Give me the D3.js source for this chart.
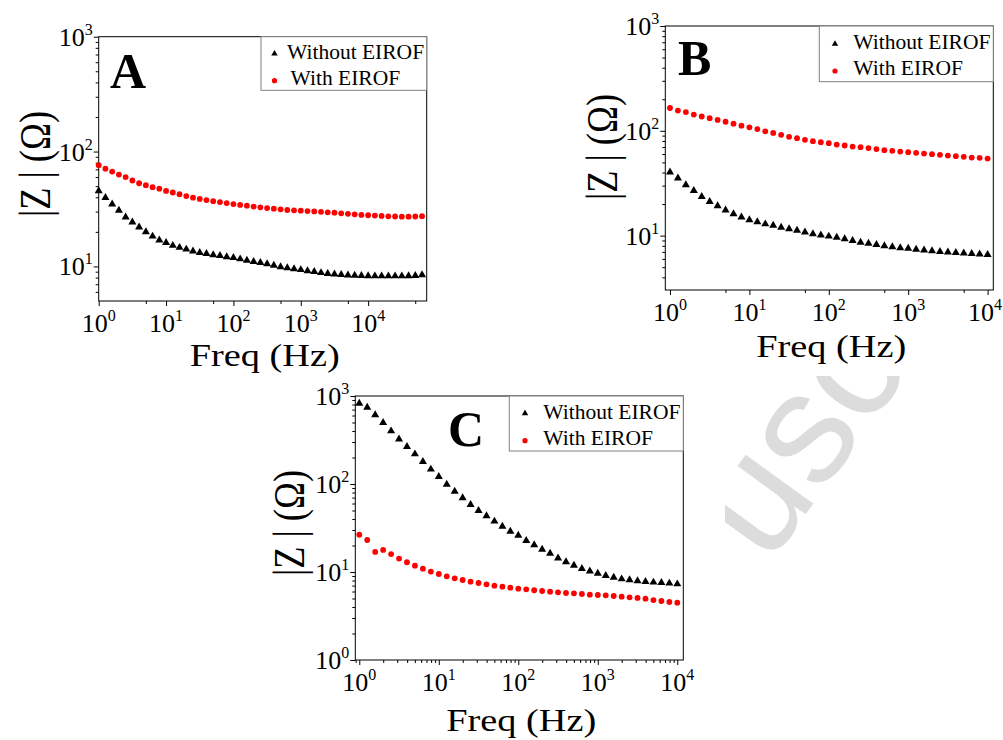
<!DOCTYPE html>
<html lang="en">
<head>
<meta charset="utf-8">
<title>|Z| vs Freq</title>
<script src="https://d3js.org/d3.v7.min.js"></script>
<style>
  body { margin: 0; background: #fff; }
  text { font-family: "Liberation Serif", "Times New Roman", serif; fill: #000; }
</style>
</head>
<body>
<script>
// frequencies (Hz), 10 points per decade
var freqA = [1, 1.259, 1.585, 1.995, 2.512, 3.162, 3.981, 5.012, 6.31, 7.943,
  10, 12.59, 15.85, 19.95, 25.12, 31.62, 39.81, 50.12, 63.1, 79.43,
  100, 125.9, 158.5, 199.5, 251.2, 316.2, 398.1, 501.2, 631, 794.3,
  1000, 1259, 1585, 1995, 2512, 3162, 3981, 5012, 6310, 7943,
  10000, 12590, 15850, 19950, 25120, 31620, 39810, 50120, 63100];
var freqBC = freqA.slice(0, 41);

// |Z| (ohm)
var zA_without = [45.4, 39.7, 34.9, 30.8, 26.9, 24.3, 22, 20, 18.3, 16.9,
  16.1, 15.2, 14.6, 14.1, 13.6, 13.2, 12.9, 12.6, 12.4, 12.1,
  11.9, 11.6, 11.3, 11, 10.8, 10.5, 10.2, 9.9, 9.7, 9.5,
  9.35, 9.15, 9.0, 8.8, 8.65, 8.55, 8.47, 8.4, 8.35, 8.3,
  8.26, 8.25, 8.25, 8.25, 8.25, 8.25, 8.27, 8.3, 8.45];
var zA_with = [76, 71, 67, 63, 60, 56, 53, 51, 49, 47.5,
  45.4, 44, 42.5, 41, 39.7, 38.7, 37.8, 37, 36.3, 35.6,
  34.9, 34.3, 33.8, 33.2, 32.7, 32.2, 31.8, 31.4, 31, 30.8,
  30.6, 30.3, 30.1, 29.9, 29.6, 29.4, 29, 28.7, 28.4, 28.1,
  27.9, 27.7, 27.5, 27.3, 27.2, 27.1, 27.1, 27.2, 27.4];
var zB_without = [40.3, 35.3, 30.5, 26.9, 23.6, 21.1, 19.2, 17.5, 16.1, 15,
  14.1, 13.5, 12.9, 12.5, 12, 11.6, 11.2, 10.8, 10.4, 10.1,
  9.86, 9.6, 9.3, 8.96, 8.63, 8.45, 8.2, 7.97, 7.8, 7.63,
  7.55, 7.4, 7.28, 7.15, 7.05, 6.95, 6.87, 6.8, 6.72, 6.66, 6.6];
var zB_with = [165, 156, 151, 143, 137, 132, 127, 122, 117, 112,
  108, 104, 99, 95.5, 91.5, 87.7, 85, 82, 79.6, 78,
  76.3, 74, 72.4, 70.8, 69.8, 68.4, 66.9, 65.4, 64.4, 63.4,
  62.6, 61.7, 60.7, 59.9, 59, 58.1, 57.3, 56.5, 55.6, 55.2, 54.3];
var zC_without = [826, 743, 608, 498, 400, 324, 265, 219, 179, 147,
  121, 99, 82.6, 69.4, 58.2, 49.8, 43.3, 37.7, 33, 29,
  26.1, 22.7, 20.3, 18.1, 16.3, 14.4, 13, 11.9, 10.9, 10.2,
  9.66, 9.08, 8.7, 8.32, 8.11, 7.9, 7.76, 7.64, 7.57, 7.44, 7.3];
var zC_with = [26.5, 23.1, 16.9, 17.8, 16, 14.2, 12.9, 11.8, 10.9, 10.1,
  9.49, 8.93, 8.47, 8.11, 7.76, 7.5, 7.24, 6.99, 6.81, 6.64,
  6.46, 6.36, 6.2, 6.08, 5.97, 5.87, 5.77, 5.73, 5.62, 5.52,
  5.48, 5.43, 5.34, 5.24, 5.15, 5.07, 4.98, 4.8, 4.68, 4.56, 4.48];

var seriesNames = ["Without EIROF", "With EIROF"];
var xTickExp = [0, 1, 2, 3, 4];
var panelLetters = ["A", "B", "C"];
var xTitle = "Freq (Hz)";
var yTitle = "|Z | (\u03A9)";

var w = 1003, h = 740;

var svg = d3.select("body").append("svg")
  .attr("width", w).attr("height", h);

svg.append("rect").attr("width", w).attr("height", h).attr("fill", "#fff");

// faint watermark behind the panels
svg.append("text")
  .attr("transform", "translate(768,566) rotate(-54)")
  .style("font-family", "'Liberation Sans', Arial, sans-serif")
  .style("font-size", "158px")
  .style("fill", "#dcdcdc")
  .text("usc");

var panels = [
  { letter: panelLetters[0], freq: freqA, without: zA_without, withE: zA_with,
    left: 98.7, top: 36.7, pw: 328, ph: 264.3,
    xDomain: [1, 74000], yDomain: [5, 1000], yTickExp: [1, 2, 3], xMinor: [5],
    bg: [0, 0, 440, 380],
    leg: { bx: 261, bw: 165.7, bh: 53.6, mx: 13.5, m1: 17, m2: 44, t1x: 26, t2x: 29.5, t1y: 22, t2y: 48 },
    letterPos: [110, 88], titleY: 366, yTitlePos: [50, 164] },
  { letter: panelLetters[1], freq: freqBC, without: zB_without, withE: zB_with,
    left: 665.3, top: 26, pw: 328, ph: 264,
    xDomain: [0.873, 11800], yDomain: [3.03, 1000], yTickExp: [1, 2, 3], xMinor: [5],
    bg: [560, 0, 443, 376],
    leg: { bx: 819.3, bw: 174, bh: 55.7, mx: 15.7, m1: 18, m2: 45, t1x: 34, t2x: 34, t1y: 23.3, t2y: 49 },
    letterPos: [678, 75], titleY: 357, yTitlePos: [617, 147] },
  { letter: panelLetters[2], freq: freqBC, without: zC_without, withE: zC_with,
    left: 355.3, top: 396, pw: 328, ph: 264,
    xDomain: [0.891, 11900], yDomain: [1, 1000], yTickExp: [0, 1, 2, 3], xMinor: [2, 3, 4, 5, 6, 7, 8, 9],
    bg: [250, 380, 475, 360],
    leg: { bx: 509.3, bw: 174, bh: 55, mx: 15.7, m1: 17.3, m2: 44.7, t1x: 34, t2x: 34, t1y: 23, t2y: 49 },
    letterPos: [448, 445.7], titleY: 731, yTitlePos: [304, 523] }
];

// white panel backgrounds (they hide parts of the watermark)
panels.forEach(function(p) {
  svg.append("rect")
    .attr("x", p.bg[0]).attr("y", p.bg[1])
    .attr("width", p.bg[2]).attr("height", p.bg[3])
    .attr("fill", "#fff");
});

function powLabel(sel, exp, mainSize) {
  sel.append("tspan").style("font-size", mainSize + "px").text("10");
  sel.append("tspan").style("font-size", "16px").attr("dy", -11).text(exp);
}

panels.forEach(function(p) {
  var g = svg.append("g");
  var bottom = p.top + p.ph, right = p.left + p.pw;

  var x = d3.scaleLog().domain(p.xDomain).range([p.left, right]);
  var y = d3.scaleLog().domain(p.yDomain).range([bottom, p.top]);

  var xMajor = xTickExp.map(function(e) { return Math.pow(10, e); });
  var xMinor = [];
  d3.range(-1, 5).forEach(function(e) {
    p.xMinor.forEach(function(m) {
      var v = m * Math.pow(10, e);
      if (v > p.xDomain[0] && v < p.xDomain[1]) xMinor.push(v);
    });
  });
  var yMajor = p.yTickExp.map(function(e) { return Math.pow(10, e); });
  var yMinor = [];
  d3.range(-1, 4).forEach(function(e) {
    [2, 3, 4, 5, 6, 7, 8, 9].forEach(function(m) {
      var v = m * Math.pow(10, e);
      if (v > p.yDomain[0] && v < p.yDomain[1]) yMinor.push(v);
    });
  });

  // ticks
  function tickStyle(sel) {
    sel.select(".domain").remove();
    sel.selectAll("line").attr("stroke", "#000").attr("stroke-width", 1);
  }
  g.append("g").attr("transform", "translate(0," + bottom + ")")
    .call(d3.axisBottom(x).tickValues(xMajor).tickSize(5).tickSizeOuter(0).tickFormat(""))
    .call(tickStyle);
  g.append("g").attr("transform", "translate(0," + bottom + ")")
    .call(d3.axisBottom(x).tickValues(xMinor).tickSize(3).tickSizeOuter(0).tickFormat(""))
    .call(tickStyle);
  g.append("g").attr("transform", "translate(" + p.left + ",0)")
    .call(d3.axisLeft(y).tickValues(yMajor).tickSize(5).tickSizeOuter(0).tickFormat(""))
    .call(tickStyle);
  g.append("g").attr("transform", "translate(" + p.left + ",0)")
    .call(d3.axisLeft(y).tickValues(yMinor).tickSize(3).tickSizeOuter(0).tickFormat(""))
    .call(tickStyle);

  // frame
  g.append("rect")
    .attr("x", p.left).attr("y", p.top)
    .attr("width", p.pw).attr("height", p.ph)
    .attr("fill", "none").attr("stroke", "#000").attr("stroke-width", 1);

  // tick labels (kept inside the page at the right edge)
  xTickExp.forEach(function(e) {
    var t = g.append("text")
      .attr("x", x(Math.pow(10, e)))
      .attr("y", bottom + 31)
      .attr("text-anchor", "middle")
      .call(powLabel, e, 26);
    var bb = t.node().getBBox();
    if (bb.x + bb.width > w - 1) {
      t.attr("text-anchor", "end").attr("x", w - 1);
    }
  });
  p.yTickExp.forEach(function(e) {
    g.append("text")
      .attr("x", p.left - 6)
      .attr("y", y(Math.pow(10, e)) + 9)
      .attr("text-anchor", "end")
      .call(powLabel, e, 26);
  });

  // axis titles
  g.append("text")
    .attr("x", (p.left + right) / 2 + 2).attr("y", p.titleY)
    .attr("text-anchor", "middle")
    .attr("textLength", 150).attr("lengthAdjust", "spacingAndGlyphs")
    .style("font-size", "31px")
    .text(xTitle);
  g.append("text")
    .attr("transform", "translate(" + p.yTitlePos[0] + "," + p.yTitlePos[1] + ") rotate(-90)")
    .attr("text-anchor", "middle")
    .attr("textLength", 106).attr("lengthAdjust", "spacingAndGlyphs")
    .style("font-size", "45px")
    .text(yTitle);

  // data
  var tri = d3.symbol().type(d3.symbolTriangle).size(28);
  g.append("g").selectAll("path")
    .data(p.freq.map(function(f, i) { return [f, p.without[i]]; }))
    .join("path")
    .attr("d", tri)
    .attr("transform", function(d) { return "translate(" + x(d[0]) + "," + y(d[1]) + ")"; })
    .attr("fill", "#000");
  g.append("g").selectAll("circle")
    .data(p.freq.map(function(f, i) { return [f, p.withE[i]]; }))
    .join("circle")
    .attr("cx", function(d) { return x(d[0]); })
    .attr("cy", function(d) { return y(d[1]); })
    .attr("r", 2.9)
    .attr("fill", "#ff0000");

  // legend
  var L = p.leg;
  var lg = g.append("g");
  lg.append("rect")
    .attr("x", L.bx).attr("y", p.top)
    .attr("width", L.bw).attr("height", L.bh)
    .attr("fill", "#fff").attr("stroke", "#808080").attr("stroke-width", 1);
  lg.append("path")
    .attr("d", d3.symbol().type(d3.symbolTriangle).size(18))
    .attr("transform", "translate(" + (L.bx + L.mx) + "," + (p.top + L.m1) + ")")
    .attr("fill", "#000");
  lg.append("circle")
    .attr("cx", L.bx + L.mx).attr("cy", p.top + L.m2).attr("r", 2.6)
    .attr("fill", "#ff0000");
  lg.append("text")
    .attr("x", L.bx + L.t1x).attr("y", p.top + L.t1y)
    .style("font-size", "21.5px").text(seriesNames[0]);
  lg.append("text")
    .attr("x", L.bx + L.t2x).attr("y", p.top + L.t2y)
    .style("font-size", "21.5px").text(seriesNames[1]);

  // panel letter
  g.append("text")
    .attr("x", p.letterPos[0]).attr("y", p.letterPos[1])
    .style("font-size", "50px").style("font-weight", "bold")
    .text(p.letter);
});
</script>
</body>
</html>
